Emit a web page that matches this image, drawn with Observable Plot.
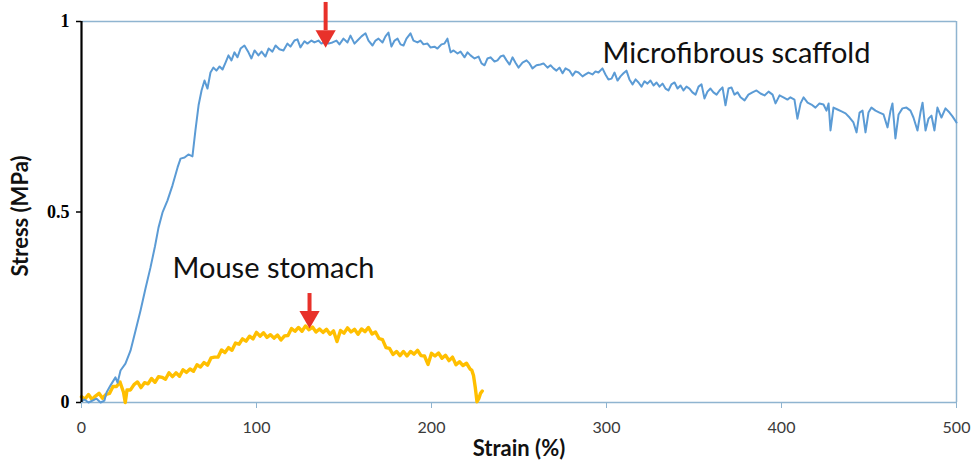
<!DOCTYPE html>
<html>
<head>
<meta charset="utf-8">
<script src="https://cdn.jsdelivr.net/npm/d3@7"></script>
<script src="https://cdn.jsdelivr.net/npm/@observablehq/plot@0.6"></script>
<style>
  html, body { margin: 0; padding: 0; background: #fff; }
  #chart svg { display: block; }
</style>
</head>
<body>
<div id="chart"></div>
<script>
// ---- data (strain %, stress MPa) ----
const scaffold = [[0,0.003],[1.7,0.008],[4,0],[6.3,0.005],[8.6,0.01],[10.9,0],[13.1,0.005],[14.3,0.026],[16.6,0.045],[19.4,0.066],[20.6,0.052],[22.3,0.084],[25.1,0.102],[28,0.136],[30.9,0.189],[33.7,0.241],[36.6,0.3],[39.4,0.354],[42,0.41],[44,0.459],[46.3,0.499],[49.1,0.53],[52,0.57],[54.9,0.617],[56.6,0.64],[58.9,0.643],[61.1,0.651],[63.4,0.646],[65.1,0.714],[66.9,0.78],[68.6,0.819],[70.3,0.845],[72,0.824],[73.7,0.866],[75.4,0.879],[77.1,0.871],[78.9,0.882],[80.6,0.874],[82.3,0.892],[84,0.911],[85.7,0.898],[87.4,0.919],[89.1,0.906],[90.9,0.929],[93.1,0.937],[95.4,0.919],[97.1,0.903],[98.9,0.924],[101.1,0.911],[102.9,0.921],[105.1,0.908],[106.9,0.929],[109.1,0.921],[110.9,0.937],[113.1,0.927],[115.4,0.924],[117.7,0.942],[119.4,0.934],[121.7,0.95],[123.4,0.953],[125.1,0.932],[127.4,0.948],[129.1,0.942],[131.4,0.95],[133.1,0.945],[135.4,0.95],[137.1,0.942],[139.4,0.948],[141.1,0.942],[143.4,0.945],[145.7,0.95],[147.4,0.94],[149.7,0.955],[152,0.945],[153.7,0.963],[156,0.942],[157.7,0.95],[160,0.961],[162.3,0.969],[164,0.95],[166.3,0.937],[168,0.95],[169.7,0.955],[172,0.945],[173.7,0.961],[175.4,0.971],[177.1,0.934],[178.9,0.95],[180.6,0.955],[182.3,0.94],[184,0.937],[185.7,0.955],[188,0.969],[189.7,0.95],[192,0.945],[193.7,0.95],[195.4,0.94],[197.7,0.942],[199.4,0.932],[201.7,0.934],[203.4,0.929],[205.7,0.94],[207.4,0.942],[209.1,0.955],[210.9,0.919],[212.6,0.924],[214.9,0.916],[216.6,0.921],[218.9,0.906],[220.6,0.919],[222.3,0.911],[224.6,0.903],[226.9,0.908],[228.6,0.89],[230.3,0.885],[232,0.903],[233.7,0.906],[236,0.895],[237.7,0.898],[239.4,0.908],[241.1,0.911],[242.9,0.898],[244.6,0.887],[246.3,0.906],[248,0.892],[249.7,0.879],[252,0.892],[254.3,0.898],[256,0.89],[257.7,0.877],[260,0.885],[262.3,0.887],[264,0.89],[266.3,0.879],[268,0.885],[269.7,0.877],[271.4,0.871],[273.1,0.879],[274.9,0.864],[276.6,0.877],[278.9,0.871],[280.6,0.858],[282.3,0.869],[284,0.866],[286.3,0.856],[288,0.861],[289.7,0.866],[292,0.861],[293.7,0.869],[295.4,0.866],[297.7,0.877],[299.4,0.861],[301.1,0.848],[302.9,0.85],[304.6,0.866],[306.3,0.845],[308,0.856],[309.7,0.864],[311.4,0.871],[313.1,0.848],[314.9,0.835],[316.6,0.848],[318.3,0.84],[320,0.829],[321.7,0.843],[323.4,0.837],[325.1,0.845],[326.9,0.832],[328.6,0.84],[330.3,0.829],[332,0.837],[333.7,0.824],[335.4,0.819],[337.1,0.835],[338.9,0.84],[340.6,0.824],[342.3,0.832],[344,0.819],[345.7,0.829],[347.4,0.824],[349.1,0.814],[350.9,0.808],[352.6,0.829],[354.3,0.835],[356,0.798],[357.7,0.816],[359.4,0.824],[361.1,0.814],[362.9,0.808],[364.6,0.819],[366.3,0.827],[368,0.78],[369.7,0.824],[371.4,0.827],[373.1,0.808],[374.9,0.814],[376.6,0.801],[378.9,0.793],[381.1,0.808],[383.4,0.814],[385.7,0.819],[388,0.811],[390.3,0.806],[392.6,0.816],[394.9,0.808],[396.6,0.785],[398.9,0.806],[401.1,0.801],[403.4,0.795],[405.1,0.801],[407.4,0.795],[409.1,0.745],[410.9,0.785],[412.6,0.801],[414.9,0.787],[417.1,0.782],[419.4,0.774],[421.7,0.785],[424,0.782],[425.7,0.766],[426.9,0.785],[428,0.714],[429.7,0.774],[432,0.769],[434.3,0.764],[436.6,0.759],[438.9,0.748],[441.1,0.735],[442.9,0.709],[444.6,0.761],[446.3,0.766],[448,0.709],[449.7,0.761],[451.4,0.774],[453.7,0.766],[456,0.761],[458.3,0.756],[460.6,0.722],[462.3,0.766],[463.4,0.785],[465.1,0.693],[466.9,0.756],[469.1,0.772],[471.4,0.774],[473.7,0.766],[475.4,0.748],[477.7,0.714],[479.4,0.761],[480.6,0.787],[482.3,0.714],[484,0.745],[485.7,0.753],[487.4,0.714],[489.1,0.774],[491.4,0.748],[493.7,0.772],[496,0.761],[497.7,0.751],[500,0.735]];

const stomach = [[0,0.015],[2,0.009],[4,0.021],[6,0.008],[8,0.017],[10,0.024],[12,0.011],[14,0.021],[16,0.024],[18,0.042],[20,0.042],[22,0.054],[24,0.027],[25,0],[26,0.033],[28,0.033],[30,0.047],[32,0.054],[34,0.039],[36,0.052],[38,0.049],[40,0.063],[42,0.053],[44,0.068],[46,0.066],[48,0.061],[50,0.078],[52,0.068],[54,0.078],[56,0.069],[58,0.086],[60,0.079],[62,0.088],[64,0.082],[66,0.099],[68,0.093],[70,0.105],[72,0.098],[74,0.117],[76,0.119],[78,0.119],[80,0.138],[82,0.131],[84,0.144],[86,0.137],[88,0.156],[90,0.153],[92,0.167],[94,0.161],[96,0.174],[98,0.167],[100,0.184],[102,0.174],[104,0.183],[106,0.171],[108,0.178],[110,0.169],[112,0.177],[114,0.164],[116,0.175],[118,0.176],[120,0.194],[122,0.187],[124,0.197],[126,0.187],[128,0.201],[130,0.191],[132,0.198],[134,0.185],[136,0.193],[138,0.184],[140,0.192],[142,0.179],[144,0.188],[146,0.16],[148,0.189],[150,0.182],[152,0.196],[154,0.185],[156,0.192],[158,0.179],[160,0.193],[162,0.186],[164,0.197],[166,0.18],[168,0.185],[170,0.168],[172,0.165],[174,0.144],[176,0.142],[178,0.126],[180,0.134],[182,0.123],[184,0.134],[186,0.122],[188,0.134],[190,0.127],[192,0.137],[194,0.123],[196,0.122],[198,0.1],[200,0.129],[202,0.122],[204,0.13],[206,0.116],[208,0.124],[210,0.11],[212,0.119],[214,0.099],[216,0.107],[218,0.097],[220,0.103],[222,0.088],[223,0.085],[224,0.071],[225,0.04],[226,0.002],[227,0.01],[228,0.024],[229,0.03]];

const xTicks = [0, 100, 200, 300, 400, 500];
const yTicks = [0, 0.5, 1];
const yTickLabels = {0: "0", 0.5: "0.5", 1: "1"};
const seriesLabels = ["Microfibrous scaffold", "Mouse stomach"];
const labelStrain = [297.7, 52];
const labelStress = [0.89, 0.328];
const arrowStrain = [139.5, 130.3];
const arrowTop = [1.05, 0.286];
const arrowBottom = [0.976, 0.236];
const arrowHead = [0.962, 0.225];

const blue = "#5b9bd5", gold = "#ffbf00", red = "#e8312a", frameBlue = "#8fb4d0";
const labels = seriesLabels.map((t, i) => ({t, x: labelStrain[i], y: labelStress[i]}));
const arrows = arrowStrain.map((x, i) => ({x, y1: arrowTop[i], y2: arrowBottom[i], yh: arrowHead[i]}));

const chart = Plot.plot({
  width: 972, height: 463,
  marginLeft: 81, marginRight: 16, marginTop: 21, marginBottom: 61,
  x: {domain: [0, 500]},
  y: {domain: [0, 1]},
  style: {background: "#fff", fontFamily: "Lato, 'Open Sans', sans-serif"},
  marks: [
    Plot.ruleY([1], {stroke: frameBlue, strokeWidth: 1.5}),
    Plot.ruleX([500], {stroke: frameBlue, strokeWidth: 1.5}),
    Plot.ruleY([0], {stroke: frameBlue, strokeWidth: 1.5}),
    Plot.line(stomach, {x: d => d[0], y: d => d[1], stroke: gold, strokeWidth: 3.4, strokeLinejoin: "round"}),
    Plot.line(scaffold, {x: d => d[0], y: d => d[1], stroke: blue, strokeWidth: 2, strokeLinejoin: "round"}),
    Plot.ruleX([0], {stroke: "#000", strokeWidth: 2.2}),
    Plot.axisX({ticks: xTicks, tickSize: 6, tickPadding: 13, stroke: frameBlue, fontSize: 16, fill: "#3a3a3a", label: null, tickFormat: d => String(d)}),
    Plot.axisY({ticks: yTicks, tickSize: 5, tickPadding: 7, stroke: "#000", strokeWidth: 1.5, fontSize: 18, fontWeight: "bold", fontFamily: "'Liberation Serif', serif", fill: "#000", label: null, tickFormat: d => yTickLabels[d]}),
    Plot.text(["Strain (%)"], {frameAnchor: "bottom", textAnchor: "middle", lineAnchor: "middle", dy: 46, fontSize: 22, fontWeight: "bold", fill: "#111"}),
    Plot.text(["Stress (MPa)"], {frameAnchor: "left", textAnchor: "middle", lineAnchor: "middle", dx: -61, dy: 4, rotate: -90, fontSize: 22, fontWeight: "bold", fill: "#111"}),
    Plot.text(labels, {x: "x", y: "y", text: "t", textAnchor: "start", lineAnchor: "bottom", fontSize: 29, fill: "#111"}),
    Plot.ruleX(arrows, {x: "x", y1: "y1", y2: "y2", stroke: red, strokeWidth: 4}),
    Plot.dot(arrows, {x: "x", y: "yh", symbol: "triangle", rotate: 180, r: 7.5, fill: red, stroke: "none"})
  ]
});
document.getElementById("chart").append(chart);
</script>
</body>
</html>
